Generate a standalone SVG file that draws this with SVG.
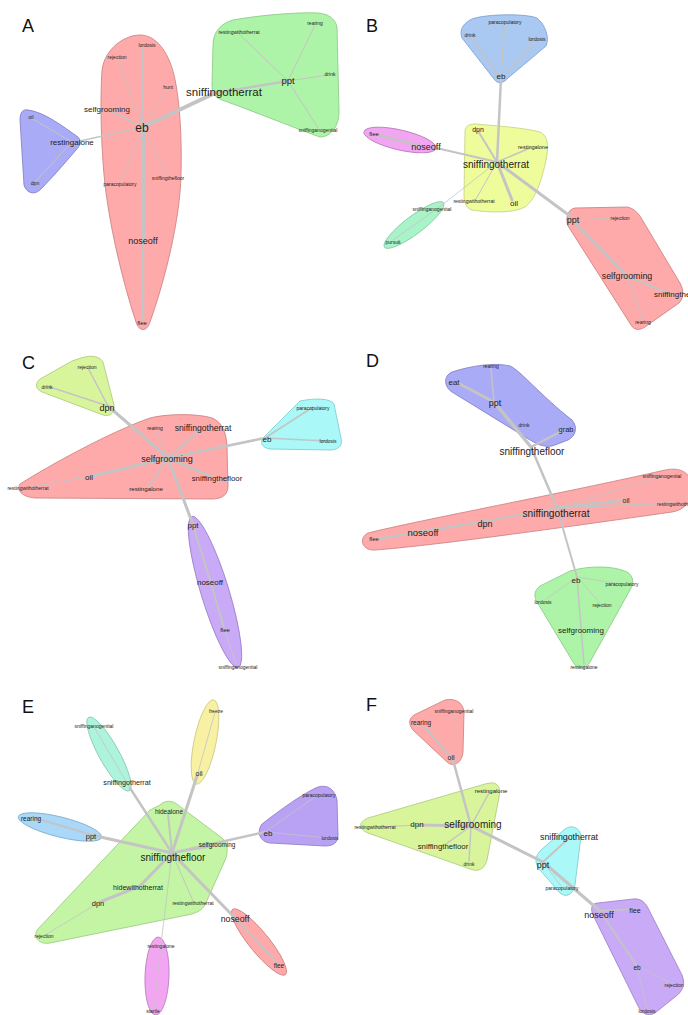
<svg xmlns="http://www.w3.org/2000/svg" width="688" height="1015" viewBox="0 0 688 1015">
<style>
text{font-family:"Liberation Sans",Arial,sans-serif;fill:#222;text-anchor:middle}
.p{font-size:18px;fill:#111;text-anchor:start}
.e line{stroke:#c4c4c4;stroke-linecap:round}
.h{stroke-width:0.8}
.red{fill:#ffaaaa;stroke:#c97c7c}
.grn{fill:#aef4a8;stroke:#86c682}
.blu{fill:#aaabf6;stroke:#7a7bc4}
.lbl{fill:#a9c8f2;stroke:#7c9ccb}
.mag{fill:#f2a6f2;stroke:#b875b8}
.yel{fill:#eefc9c;stroke:#c4d07c}
.teal{fill:#a9f3c9;stroke:#82c8a0}
.lime{fill:#d9f59c;stroke:#aac87a}
.cyan{fill:#aaf8f8;stroke:#7cc8c8}
.pur{fill:#c9aaf6;stroke:#9a7cc8}
.yel2{fill:#f8f0a2;stroke:#cfc67e}
.sky{fill:#a9d8f8;stroke:#7caacb}
.pur2{fill:#b9a2f4;stroke:#8c78c4}
.grn2{fill:#c3f5a4;stroke:#98c87e}
.teal2{fill:#aef4dc;stroke:#84c8b0}
</style>

<!-- ================= hulls ================= -->
<g id="hulls">
<!-- A -->
<path class="h red" d="M140,35 C155,35 168,50 174,75 C180,100 182,140 181,175 C180,220 165,280 150,322 C147,332 139,332 136,322 C122,280 108,220 104,175 C101,140 100,100 102,70 C105,48 125,35 140,35 Z"/>
<path class="h grn" d="M233,20 C260,15 300,12 318,13 C328,14 335,18 337,27 L339,112 C339,126 331,137 320,137 C300,130 250,110 222,100 C214,97 212,92 212,85 L213,45 C213,31 222,23 233,20 Z"/>
<path class="h blu" d="M28,110 C45,112 65,128 78,137 C82,141 80,146 76,150 C65,163 50,180 40,190 C33,196 26,192 24,185 L20,120 C20,112 23,109 28,110 Z"/>
<!-- B -->
<path class="h lbl" d="M470,20 C480,14 525,13 537,18 C545,24 550,38 546,46 L508,78 C503,84 497,84 494,79 L462,38 C459,30 463,24 470,20 Z"/>
<ellipse class="h mag" cx="400" cy="140" rx="37" ry="10" transform="rotate(13 400 140)"/>
<path class="h yel" d="M475,124 C500,126 525,128 540,132 C548,136 549,145 546,160 C542,180 535,200 525,207 C515,213 490,213 472,210 C466,208 464,202 464,195 L465,132 C465,126 469,124 475,124 Z"/>
<ellipse class="h teal" cx="414" cy="225" rx="37" ry="9" transform="rotate(-37 414 225)"/>
<path class="h red" d="M575,208 L627,207 C633,208 637,212 640,216 L680,283 C684,290 684,298 679,303 L645,327 C639,331 634,330 631,325 L568,226 C565,218 568,209 575,208 Z"/>
<!-- C -->
<path class="h lime" d="M78,359 C88,355 99,355 103,362 L114,405 C115,413 110,417 103,415 L42,392 C35,389 35,383 40,379 L72,361 Z"/>
<path class="h red" d="M20,484 C50,465 110,432 150,418 C170,413 200,414 212,418 C222,422 226,432 227,445 L228,486 C228,495 222,499 212,499 L35,498 C22,497 16,490 20,484 Z"/>
<path class="h cyan" d="M300,401 C315,398 330,398 334,404 L341,438 C343,446 338,450 330,450 L270,449 C262,448 259,442 264,437 Z"/>
<ellipse class="h pur" cx="215" cy="592" rx="79" ry="14" transform="rotate(73 215 592)"/>
<!-- D -->
<path class="h blu" d="M452,372 C470,366 495,362 510,366 C520,370 540,395 572,420 C578,427 576,436 568,440 L555,445 C548,448 540,446 530,440 L452,392 C444,387 443,376 452,372 Z"/>
<path class="h red" d="M368,533 C420,520 560,494 665,470 C680,467 690,472 692,485 C694,500 685,510 672,512 C560,528 430,546 375,550 C362,551 358,538 368,533 Z"/>
<path class="h grn" d="M570,571 C590,565 615,566 627,572 C634,576 634,584 630,590 L590,662 C585,670 577,670 573,662 L537,602 C533,595 535,590 540,586 Z"/>
<!-- E -->
<ellipse class="h teal2" cx="109" cy="754" rx="42" ry="10" transform="rotate(61 109 754)"/>
<ellipse class="h yel2" cx="205" cy="742" rx="43" ry="11" transform="rotate(101.6 205 742)"/>
<ellipse class="h sky" cx="60" cy="827" rx="43" ry="10" transform="rotate(14 60 827)"/>
<path class="h pur2" d="M262,824 C280,810 305,792 318,787 C328,784 335,790 337,800 L338,835 C338,843 333,846 325,846 L270,843 C260,842 256,832 262,824 Z"/>
<path class="h grn2" d="M160,805 C165,800 172,800 178,805 L222,838 C228,843 228,850 226,858 L205,905 C202,910 198,912 192,914 L50,943 C40,945 33,938 37,930 L150,810 Z"/>
<ellipse class="h mag" cx="157" cy="976" rx="39" ry="12" transform="rotate(92 157 976)"/>
<ellipse class="h red" cx="259" cy="942" rx="42" ry="10" transform="rotate(51 259 942)"/>
<!-- F -->
<path class="h red" d="M445,700 C455,698 463,702 464,712 L463,752 C462,764 452,768 446,761 L414,731 C407,724 409,717 416,714 Z"/>
<path class="h lime" d="M490,783 C498,782 501,788 499,797 L487,860 C484,870 478,872 470,869 L368,833 C358,829 358,822 368,818 L485,784 Z"/>
<path class="h cyan" d="M565,829 C572,824 580,828 581,836 L575,885 C573,895 566,898 560,893 L540,870 C534,863 535,856 541,850 Z"/>
<path class="h pur" d="M598,903 L633,899 C640,898 645,902 648,908 L682,975 C686,985 682,992 675,997 L655,1013 C648,1017 642,1014 638,1006 L593,915 C590,908 592,903 598,903 Z"/>
</g>

<!-- ================= connectors ================= -->
<g id="connectors" class="e">
<!-- A -->
<line x1="143" y1="127" x2="215" y2="93" stroke-width="4"/>
<line x1="215" y1="93" x2="288" y2="81" stroke-width="2.5"/>
<line x1="288" y1="81" x2="315" y2="25" stroke-width="1"/>
<line x1="288" y1="81" x2="239" y2="34" stroke-width="1"/>
<line x1="288" y1="81" x2="328" y2="75" stroke-width="1"/>
<line x1="288" y1="81" x2="318" y2="128" stroke-width="1"/>
<line x1="143" y1="127" x2="110" y2="111" stroke-width="1.5"/>
<line x1="143" y1="127" x2="80" y2="141" stroke-width="1.5"/>
<line x1="72" y1="142" x2="31" y2="118" stroke-width="1"/>
<line x1="72" y1="142" x2="35" y2="182" stroke-width="1"/>
<line x1="143" y1="127" x2="143" y2="47" stroke-width="2"/>
<line x1="143" y1="127" x2="143" y2="241" stroke-width="4"/>
<line x1="143" y1="241" x2="143" y2="320" stroke-width="2.5"/>
<line x1="143" y1="127" x2="117" y2="58" stroke-width="0.8"/>
<line x1="143" y1="127" x2="168" y2="88" stroke-width="0.8"/>
<line x1="143" y1="127" x2="120" y2="184" stroke-width="0.8"/>
<line x1="143" y1="127" x2="168" y2="178" stroke-width="0.8"/>
<!-- B -->
<line x1="497" y1="162" x2="501" y2="78" stroke-width="2.5"/>
<line x1="497" y1="162" x2="432" y2="147" stroke-width="2"/>
<line x1="420" y1="146" x2="375" y2="134" stroke-width="2.5"/>
<line x1="497" y1="162" x2="478" y2="131" stroke-width="2"/>
<line x1="497" y1="162" x2="530" y2="148" stroke-width="1.5"/>
<line x1="497" y1="162" x2="476" y2="199" stroke-width="1"/>
<line x1="497" y1="162" x2="512" y2="200" stroke-width="3"/>
<line x1="497" y1="162" x2="570" y2="216" stroke-width="3"/>
<line x1="497" y1="162" x2="442" y2="205" stroke-width="0.8"/>
<line x1="442" y1="205" x2="393" y2="240" stroke-width="0.8"/>
<line x1="572" y1="220" x2="618" y2="218" stroke-width="0.8"/>
<line x1="572" y1="220" x2="627" y2="276" stroke-width="3"/>
<line x1="627" y1="276" x2="670" y2="294" stroke-width="2"/>
<line x1="627" y1="276" x2="643" y2="320" stroke-width="1"/>
<line x1="501" y1="78" x2="470" y2="36" stroke-width="1.5"/>
<line x1="501" y1="78" x2="505" y2="23" stroke-width="1.5"/>
<line x1="501" y1="78" x2="537" y2="40" stroke-width="1.5"/>
<!-- C -->
<line x1="168" y1="458" x2="108" y2="406" stroke-width="3"/>
<line x1="108" y1="406" x2="88" y2="368" stroke-width="1.5"/>
<line x1="108" y1="406" x2="47" y2="386" stroke-width="1.5"/>
<line x1="168" y1="458" x2="265" y2="438" stroke-width="2.5"/>
<line x1="265" y1="438" x2="313" y2="407" stroke-width="1.5"/>
<line x1="265" y1="438" x2="327" y2="441" stroke-width="1.5"/>
<line x1="168" y1="458" x2="92" y2="476" stroke-width="3"/>
<line x1="92" y1="476" x2="30" y2="487" stroke-width="1"/>
<line x1="168" y1="458" x2="200" y2="430" stroke-width="2"/>
<line x1="168" y1="458" x2="155" y2="429" stroke-width="1"/>
<line x1="168" y1="458" x2="212" y2="477" stroke-width="2.5"/>
<line x1="168" y1="458" x2="148" y2="487" stroke-width="1.5"/>
<line x1="168" y1="458" x2="192" y2="522" stroke-width="3"/>
<line x1="192" y1="522" x2="210" y2="580" stroke-width="2"/>
<line x1="210" y1="580" x2="224" y2="628" stroke-width="2"/>
<line x1="224" y1="628" x2="236" y2="664" stroke-width="1"/>
<!-- D -->
<line x1="531" y1="447" x2="494" y2="402" stroke-width="3.5"/>
<line x1="494" y1="402" x2="456" y2="382" stroke-width="3"/>
<line x1="494" y1="402" x2="491" y2="368" stroke-width="1.5"/>
<line x1="531" y1="447" x2="564" y2="430" stroke-width="2.5"/>
<line x1="531" y1="447" x2="557" y2="508" stroke-width="2.5"/>
<line x1="557" y1="508" x2="624" y2="500" stroke-width="3"/>
<line x1="557" y1="508" x2="660" y2="477" stroke-width="0.8"/>
<line x1="557" y1="508" x2="672" y2="503" stroke-width="1.5"/>
<line x1="557" y1="508" x2="487" y2="521" stroke-width="2"/>
<line x1="487" y1="521" x2="425" y2="531" stroke-width="2.5"/>
<line x1="425" y1="531" x2="376" y2="539" stroke-width="2.5"/>
<line x1="557" y1="508" x2="577" y2="577" stroke-width="2"/>
<line x1="577" y1="577" x2="581" y2="628" stroke-width="1.5"/>
<line x1="581" y1="628" x2="584" y2="664" stroke-width="1.5"/>
<line x1="577" y1="577" x2="620" y2="584" stroke-width="0.8"/>
<line x1="577" y1="577" x2="545" y2="600" stroke-width="0.8"/>
<line x1="577" y1="577" x2="600" y2="603" stroke-width="0.8"/>
<!-- E -->
<line x1="172" y1="853" x2="96" y2="836" stroke-width="3"/>
<line x1="96" y1="836" x2="35" y2="818" stroke-width="2"/>
<line x1="172" y1="853" x2="130" y2="788" stroke-width="2.5"/>
<line x1="130" y1="788" x2="94" y2="727" stroke-width="0.8"/>
<line x1="172" y1="853" x2="197" y2="776" stroke-width="3"/>
<line x1="197" y1="776" x2="215" y2="712" stroke-width="0.8"/>
<line x1="172" y1="853" x2="168" y2="814" stroke-width="2"/>
<line x1="172" y1="853" x2="265" y2="832" stroke-width="2.5"/>
<line x1="265" y1="832" x2="318" y2="795" stroke-width="0.8"/>
<line x1="265" y1="832" x2="328" y2="838" stroke-width="0.8"/>
<line x1="172" y1="853" x2="214" y2="846" stroke-width="2"/>
<line x1="172" y1="853" x2="140" y2="886" stroke-width="3"/>
<line x1="140" y1="886" x2="100" y2="902" stroke-width="3"/>
<line x1="100" y1="902" x2="45" y2="935" stroke-width="0.8"/>
<line x1="172" y1="853" x2="193" y2="901" stroke-width="1"/>
<line x1="172" y1="853" x2="233" y2="916" stroke-width="3"/>
<line x1="233" y1="916" x2="278" y2="964" stroke-width="2"/>
<line x1="172" y1="853" x2="161" y2="944" stroke-width="0.8"/>
<line x1="161" y1="944" x2="154" y2="1009" stroke-width="0.8"/>
<!-- F -->
<line x1="471" y1="826" x2="453" y2="760" stroke-width="2.5"/>
<line x1="453" y1="760" x2="423" y2="725" stroke-width="2"/>
<line x1="453" y1="760" x2="454" y2="713" stroke-width="0.8"/>
<line x1="471" y1="826" x2="489" y2="793" stroke-width="1.5"/>
<line x1="471" y1="826" x2="420" y2="825" stroke-width="3"/>
<line x1="420" y1="825" x2="377" y2="827" stroke-width="1"/>
<line x1="471" y1="826" x2="446" y2="844" stroke-width="1.5"/>
<line x1="471" y1="826" x2="469" y2="861" stroke-width="1.5"/>
<line x1="471" y1="826" x2="543" y2="862" stroke-width="3"/>
<line x1="543" y1="862" x2="569" y2="838" stroke-width="2"/>
<line x1="543" y1="862" x2="561" y2="886" stroke-width="0.8"/>
<line x1="543" y1="862" x2="600" y2="911" stroke-width="3"/>
<line x1="600" y1="911" x2="633" y2="909" stroke-width="2"/>
<line x1="600" y1="911" x2="637" y2="966" stroke-width="2"/>
<line x1="637" y1="966" x2="673" y2="984" stroke-width="0.8"/>
<line x1="637" y1="966" x2="647" y2="1009" stroke-width="0.8"/>
</g>

<!-- ================= panel letters ================= -->
<g id="panel-labels">
<text class="p" x="22" y="32">A</text>
<text class="p" x="366" y="32">B</text>
<text class="p" x="22" y="369">C</text>
<text class="p" x="366" y="367">D</text>
<text class="p" x="22" y="713">E</text>
<text class="p" x="366" y="711">F</text>
</g>

<!-- ================= nodes: A ================= -->
<g id="A-lordosis"><text x="147" y="46.8" font-size="5">lordosis</text></g>
<g id="A-rejection"><text x="117" y="58.8" font-size="5">rejection</text></g>
<g id="A-hunt"><text x="168" y="88.8" font-size="5">hunt</text></g>
<g id="A-selfgrooming"><text x="107" y="111.8" font-size="8">selfgrooming</text></g>
<g id="A-eb"><text x="142" y="132.2" font-size="12">eb</text></g>
<g id="A-restingalone"><text x="72" y="144.8" font-size="8">restingalone</text></g>
<g id="A-oil"><text x="31" y="118.8" font-size="5">oil</text></g>
<g id="A-dpn"><text x="35" y="184.8" font-size="5">dpn</text></g>
<g id="A-paracopulatory"><text x="120" y="185.8" font-size="5">paracopulatory</text></g>
<g id="A-sniffingthefloor"><text x="168" y="179.8" font-size="5">sniffingthefloor</text></g>
<g id="A-noseoff"><text x="143" y="244.2" font-size="9">noseoff</text></g>
<g id="A-flee"><text x="142" y="325.1" font-size="6">flee</text></g>
<g id="A-sniffingotherrat"><text x="224" y="96" font-size="11.5">sniffingotherrat</text></g>
<g id="A-ppt"><text x="288" y="84.3" font-size="9.5">ppt</text></g>
<g id="A-restingwithotherrat"><text x="239" y="33.8" font-size="5">restingwithotherrat</text></g>
<g id="A-rearing"><text x="315" y="24.8" font-size="5">rearing</text></g>
<g id="A-drink"><text x="330" y="75.8" font-size="5">drink</text></g>
<g id="A-sniffinganogenital"><text x="318" y="131.8" font-size="5">sniffinganogenital</text></g>

<!-- ================= nodes: B ================= -->
<g id="B-paracopulatory"><text x="505" y="23.8" font-size="5">paracopulatory</text></g>
<g id="B-drink"><text x="470" y="36.8" font-size="5">drink</text></g>
<g id="B-lordosis"><text x="537" y="40.8" font-size="5">lordosis</text></g>
<g id="B-eb"><text x="501" y="78.8" font-size="8">eb</text></g>
<g id="B-flee"><text x="374" y="136.1" font-size="6">flee</text></g>
<g id="B-noseoff"><text x="426" y="150.2" font-size="9">noseoff</text></g>
<g id="B-dpn"><text x="478" y="131.5" font-size="7">dpn</text></g>
<g id="B-restingalone"><text x="533" y="149" font-size="5.5">restingalone</text></g>
<g id="B-sniffingotherrat"><text x="496" y="167.5" font-size="10">sniffingotherrat</text></g>
<g id="B-restingwithotherrat"><text x="474" y="202.8" font-size="5">restingwithotherrat</text></g>
<g id="B-oil"><text x="514" y="205.8" font-size="8">oil</text></g>
<g id="B-sniffinganogenital"><text x="432" y="210.8" font-size="5">sniffinganogenital</text></g>
<g id="B-pursuit"><text x="393" y="243.8" font-size="5">pursuit</text></g>
<g id="B-ppt"><text x="573" y="223.2" font-size="9">ppt</text></g>
<g id="B-rejection"><text x="620" y="219.8" font-size="5">rejection</text></g>
<g id="B-selfgrooming"><text x="627" y="279" font-size="8.8">selfgrooming</text></g>
<g id="B-sniffingthefloor"><text x="654" y="296.8" font-size="8" style="text-anchor:start">sniffingthefloor</text></g>
<g id="B-rearing"><text x="643" y="323.8" font-size="5">rearing</text></g>

<!-- ================= nodes: C ================= -->
<g id="C-rejection"><text x="87" y="368.8" font-size="5">rejection</text></g>
<g id="C-drink"><text x="47" y="388.8" font-size="5">drink</text></g>
<g id="C-dpn"><text x="107" y="411.2" font-size="9">dpn</text></g>
<g id="C-paracopulatory"><text x="313" y="409.8" font-size="5">paracopulatory</text></g>
<g id="C-eb"><text x="267" y="441.8" font-size="8">eb</text></g>
<g id="C-lordosis"><text x="328" y="442.8" font-size="5">lordosis</text></g>
<g id="C-rearing"><text x="155" y="429.8" font-size="5">rearing</text></g>
<g id="C-sniffingotherrat"><text x="203" y="431" font-size="8.6">sniffingotherrat</text></g>
<g id="C-selfgrooming"><text x="167" y="462.2" font-size="9">selfgrooming</text></g>
<g id="C-oil"><text x="89" y="479.8" font-size="8">oil</text></g>
<g id="C-sniffingthefloor"><text x="217" y="480.7" font-size="7.8">sniffingthefloor</text></g>
<g id="C-restingwithotherrat"><text x="28" y="489.8" font-size="5">restingwithotherrat</text></g>
<g id="C-restingalone"><text x="146" y="491.2" font-size="6.2">restingalone</text></g>
<g id="C-ppt"><text x="193" y="527.8" font-size="8">ppt</text></g>
<g id="C-noseoff"><text x="210" y="584.8" font-size="8">noseoff</text></g>
<g id="C-flee"><text x="225" y="632.1" font-size="6">flee</text></g>
<g id="C-sniffinganogenital"><text x="238" y="668.8" font-size="5">sniffinganogenital</text></g>

<!-- ================= nodes: D ================= -->
<g id="D-rearing"><text x="491" y="367.8" font-size="5">rearing</text></g>
<g id="D-eat"><text x="454" y="384.8" font-size="8">eat</text></g>
<g id="D-ppt"><text x="495" y="406.2" font-size="9">ppt</text></g>
<g id="D-drink"><text x="524" y="426.8" font-size="5">drink</text></g>
<g id="D-grab"><text x="566" y="431.6" font-size="7.5">grab</text></g>
<g id="D-sniffingthefloor"><text x="532" y="454.5" font-size="10">sniffingthefloor</text></g>
<g id="D-sniffinganogenital"><text x="662" y="477.8" font-size="5">sniffinganogenital</text></g>
<g id="D-oil"><text x="626" y="502.5" font-size="7">oil</text></g>
<g id="D-restingwithotherrat"><text x="657" y="505.8" font-size="5" style="text-anchor:start">restingwithotherrat</text></g>
<g id="D-sniffingotherrat"><text x="556" y="516.6" font-size="10.2">sniffingotherrat</text></g>
<g id="D-dpn"><text x="485" y="527.2" font-size="9">dpn</text></g>
<g id="D-noseoff"><text x="423" y="536.3" font-size="9.5">noseoff</text></g>
<g id="D-flee"><text x="374" y="541.1" font-size="6">flee</text></g>
<g id="D-eb"><text x="576" y="582.8" font-size="8">eb</text></g>
<g id="D-paracopulatory"><text x="622" y="585.8" font-size="5">paracopulatory</text></g>
<g id="D-lordosis"><text x="543" y="603.8" font-size="5">lordosis</text></g>
<g id="D-rejection"><text x="602" y="606.8" font-size="5">rejection</text></g>
<g id="D-selfgrooming"><text x="581" y="632.8" font-size="8">selfgrooming</text></g>
<g id="D-restingalone"><text x="584" y="668.8" font-size="5">restingalone</text></g>

<!-- ================= nodes: E ================= -->
<g id="E-sniffinganogenital"><text x="94" y="727.8" font-size="5">sniffinganogenital</text></g>
<g id="E-sniffingotherrat"><text x="127" y="784.5" font-size="7.2">sniffingotherrat</text></g>
<g id="E-freeze"><text x="216" y="712.8" font-size="5">freeze</text></g>
<g id="E-oil"><text x="199" y="775.5" font-size="7">oil</text></g>
<g id="E-hidealone"><text x="169" y="814.3" font-size="6.5">hidealone</text></g>
<g id="E-rearing"><text x="31" y="821.3" font-size="6.5">rearing</text></g>
<g id="E-ppt"><text x="91" y="838.6" font-size="7.5">ppt</text></g>
<g id="E-paracopulatory"><text x="319" y="796.8" font-size="5">paracopulatory</text></g>
<g id="E-eb"><text x="268" y="835.8" font-size="8">eb</text></g>
<g id="E-lordosis"><text x="330" y="839.8" font-size="5">lordosis</text></g>
<g id="E-selfgrooming"><text x="217" y="847.2" font-size="6.4">selfgrooming</text></g>
<g id="E-sniffingthefloor"><text x="173" y="860.5" font-size="10">sniffingthefloor</text></g>
<g id="E-hidewithotherrat"><text x="138" y="889.5" font-size="7">hidewithotherrat</text></g>
<g id="E-dpn"><text x="98" y="905.6" font-size="7.5">dpn</text></g>
<g id="E-restingwithotherrat"><text x="193" y="904.8" font-size="5">restingwithotherrat</text></g>
<g id="E-rejection"><text x="44" y="937.8" font-size="5">rejection</text></g>
<g id="E-noseoff"><text x="235" y="922.1" font-size="8.8">noseoff</text></g>
<g id="E-flee"><text x="279" y="968.3" font-size="6.5">flee</text></g>
<g id="E-restingalone"><text x="161" y="947.8" font-size="5">restingalone</text></g>
<g id="E-startle"><text x="153" y="1012.8" font-size="5">startle</text></g>

<!-- ================= nodes: F ================= -->
<g id="F-sniffinganogenital"><text x="454" y="712.8" font-size="5">sniffinganogenital</text></g>
<g id="F-rearing"><text x="421" y="725.3" font-size="6.5">rearing</text></g>
<g id="F-oil"><text x="451" y="759.5" font-size="7">oil</text></g>
<g id="F-restingalone"><text x="491" y="793.1" font-size="6">restingalone</text></g>
<g id="F-restingwithotherrat"><text x="375" y="828.8" font-size="5">restingwithotherrat</text></g>
<g id="F-dpn"><text x="417" y="826.8" font-size="8">dpn</text></g>
<g id="F-selfgrooming"><text x="473" y="827.5" font-size="10">selfgrooming</text></g>
<g id="F-sniffingotherrat"><text x="569" y="840.1" font-size="8.8">sniffingotherrat</text></g>
<g id="F-sniffingthefloor"><text x="443" y="848.7" font-size="7.8">sniffingthefloor</text></g>
<g id="F-drink"><text x="469" y="865.8" font-size="5">drink</text></g>
<g id="F-ppt"><text x="543" y="868.2" font-size="9">ppt</text></g>
<g id="F-paracopulatory"><text x="562" y="889.8" font-size="5">paracopulatory</text></g>
<g id="F-noseoff"><text x="599" y="918.2" font-size="9">noseoff</text></g>
<g id="F-flee"><text x="635" y="912.5" font-size="7">flee</text></g>
<g id="F-eb"><text x="637" y="970.3" font-size="6.5">eb</text></g>
<g id="F-rejection"><text x="674" y="986.8" font-size="5">rejection</text></g>
<g id="F-lordosis"><text x="647" y="1012.8" font-size="5">lordosis</text></g>
</svg>
